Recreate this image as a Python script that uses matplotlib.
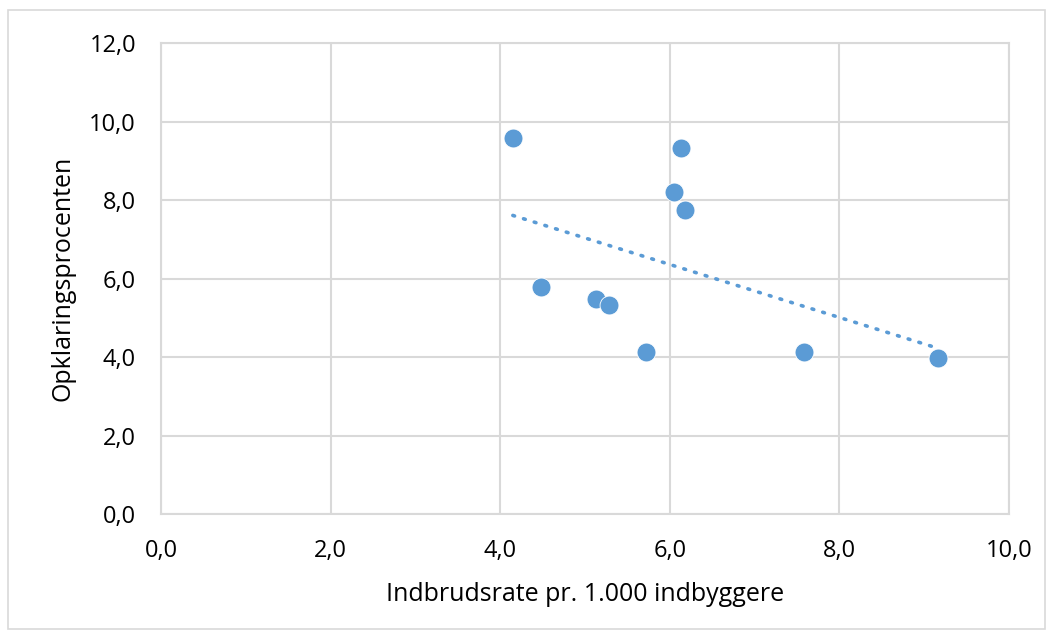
import numpy as np
from matplotlib import pyplot as plt
from matplotlib.patches import Rectangle

# data
indbrudsrate = [4.15, 6.13, 6.05, 6.18, 4.48, 5.13, 5.28, 5.72, 7.58, 9.16]
opklaring = [9.57, 9.33, 8.21, 7.75, 5.78, 5.47, 5.32, 4.14, 4.14, 3.97]
x_ticks = [0, 2, 4, 6, 8, 10]
y_ticks = [0, 2, 4, 6, 8, 10, 12]

blue = "#5B9BD5"
grid_col = "#D9D9D9"

plt.rcParams['font.family'] = ['Open Sans', 'DejaVu Sans']

fig = plt.figure(figsize=(10.52, 6.39), dpi=100)
fig.patches.append(Rectangle((0.008, 0.015), 0.985, 0.97, transform=fig.transFigure,
                             fill=False, edgecolor=grid_col, linewidth=1.2))
ax = fig.add_axes([0.153, 0.1956, 0.806, 0.7371])

ax.set_xlim(0, 10)
ax.set_ylim(0, 12)
ax.set_xticks(x_ticks)
ax.set_yticks(y_ticks)
fmt = lambda v: f"{v:.1f}".replace(".", ",")
ax.set_xticklabels([fmt(v) for v in x_ticks])
ax.set_yticklabels([fmt(v) for v in y_ticks])
ax.tick_params(axis='both', length=0, labelsize=17, pad=18, colors="#000000")
ax.grid(True, color=grid_col, linewidth=1.5)
ax.set_axisbelow(True)
for s in ax.spines.values():
    s.set_color(grid_col)
    s.set_linewidth(1.5)

ax.scatter(indbrudsrate, opklaring, s=185, color=blue, edgecolor="white",
           linewidth=0.6, zorder=3)

# linear trendline
k, m = np.polyfit(indbrudsrate, opklaring, 1)
xs = np.array([min(indbrudsrate), max(indbrudsrate)])
ax.plot(xs, k * xs + m, color=blue, linewidth=2.6, linestyle=(0, (0.5, 2.6)),
        dash_capstyle='round', zorder=2)

ax.set_xlabel("Indbrudsrate pr. 1.000 indbyggere", fontsize=18, labelpad=14)
ax.set_ylabel("Opklaringsprocenten", fontsize=18, labelpad=10)

plt.savefig("out.png", dpi=100)
plt.close()
